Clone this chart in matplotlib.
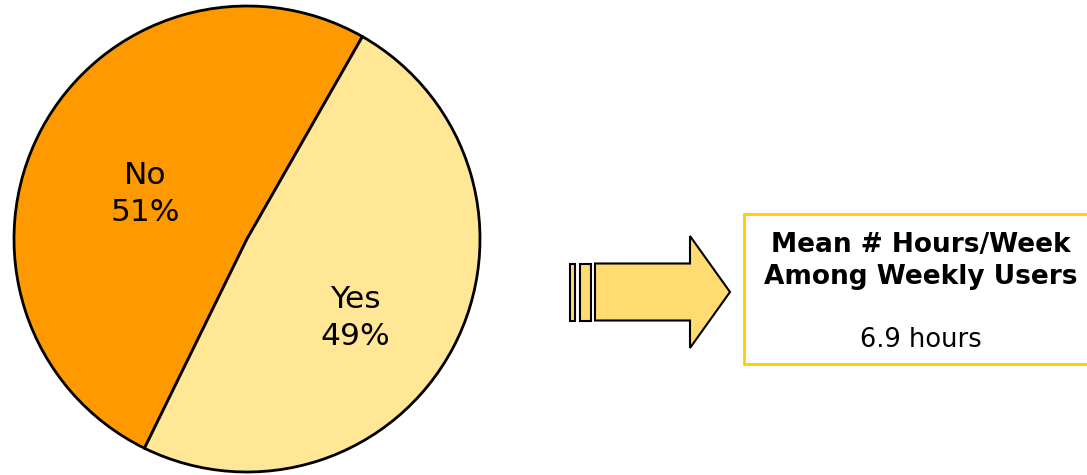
import matplotlib
matplotlib.use("Agg")
import matplotlib.pyplot as plt
from matplotlib.patches import Polygon, Rectangle

labels = ["No", "Yes"]
shares = [51, 49]
colors = ["#FF9900", "#FFE795"]
mean_hours = 6.9

W, H = 1087, 475
fig = plt.figure(figsize=(W / 100, H / 100), dpi=100)
ax = fig.add_axes([0, 0, 1, 1])

# pie, working in pixel units (y measured up from the bottom)
cx, cy, r = 247, H - 239, 233
wedges, _ = ax.pie(shares, colors=colors, startangle=60.3, counterclock=True,
                   center=(cx, cy), radius=r, frame=True,
                   wedgeprops=dict(edgecolor="black", linewidth=2))
ax.set_xlim(0, W)
ax.set_ylim(0, H)
ax.set_aspect("equal")
ax.axis("off")

label_pos = [(145, H - 194), (355, H - 318)]
for (x, y), lab, s in zip(label_pos, labels, shares):
    ax.text(x, y, f"{lab}\n{s}%", ha="center", va="center", fontsize=22.5,
            linespacing=1.35, color="black")

# block arrow
arrow_col = "#FFDB70"
ymid = H - 292
body_h, head_h = 57, 112
ax.add_patch(Rectangle((570, ymid - body_h / 2), 5, body_h, fc=arrow_col, ec="black", lw=1.5))
ax.add_patch(Rectangle((580, ymid - body_h / 2), 11, body_h, fc=arrow_col, ec="black", lw=1.5))
pts = [(595, ymid - body_h / 2), (690, ymid - body_h / 2), (690, ymid - head_h / 2),
       (730, ymid), (690, ymid + head_h / 2), (690, ymid + body_h / 2),
       (595, ymid + body_h / 2)]
ax.add_patch(Polygon(pts, closed=True, fc=arrow_col, ec="black", lw=1.5, joinstyle="miter"))

# summary box
ax.add_patch(Rectangle((744, H - 364), 360, 150, fc="white", ec="#FFCC00", lw=2, clip_on=True))
ax.text(921, H - 261, "Mean # Hours/Week\nAmong Weekly Users", ha="center", va="center",
        fontsize=19, fontweight="bold", linespacing=1.27)
ax.text(921, H - 340, f"{mean_hours} hours", ha="center", va="center", fontsize=18.5)

fig.savefig("out.png", dpi=100)
